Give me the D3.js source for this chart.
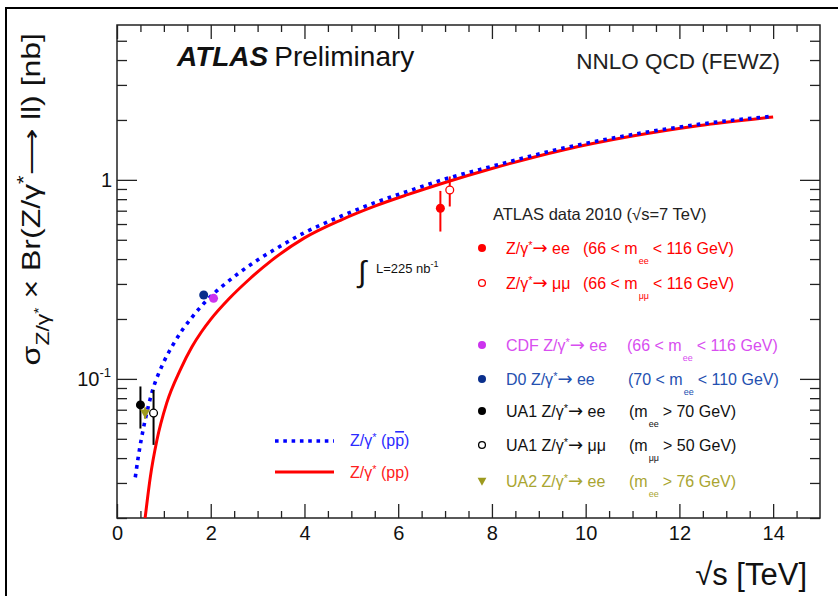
<!DOCTYPE html>
<html>
<head>
<meta charset="utf-8">
<script src="https://cdn.jsdelivr.net/npm/d3@7"></script>
<style>
body { margin: 0; background: #fff; }
svg { display: block; font-family: "Liberation Sans", Arial, Helvetica, sans-serif; }
</style>
</head>
<body>
<svg id="chart" width="838" height="596"></svg>
<script>
// theory: NNLO QCD (FEWZ), sigma x Br in nb vs sqrt(s) in TeV
var ppbarS = [0.39, 0.45, 0.52, 0.60, 0.70, 0.80, 0.90, 1.0, 1.2, 1.4, 1.6, 1.8, 2.0, 2.2, 2.6, 3.0, 3.4, 4.0, 4.8, 5.5, 6.2, 7.0, 8.0, 9.5, 11.0, 12.4, 14.0];
var ppbarSigma = [0.032, 0.040, 0.050, 0.062, 0.078, 0.094, 0.108, 0.122, 0.149, 0.177, 0.204, 0.232, 0.260, 0.286, 0.340, 0.396, 0.452, 0.543, 0.660, 0.768, 0.876, 1.01, 1.17, 1.44, 1.69, 1.90, 2.09];
var ppS = [0.60, 0.65, 0.71, 0.85, 1.06, 1.35, 1.6, 1.8, 2.0, 2.4, 2.8, 3.3, 4.0, 4.8, 5.5, 6.2, 7.0, 8.0, 9.5, 11.0, 12.4, 14.0];
var ppSigma = [0.020, 0.025, 0.032, 0.049, 0.0755, 0.111, 0.145, 0.172, 0.199, 0.254, 0.313, 0.394, 0.511, 0.632, 0.738, 0.843, 0.97, 1.14, 1.41, 1.66, 1.87, 2.07];

// measurements
var expNames = ["ATLAS ee", "ATLAS mumu", "CDF ee", "D0 ee", "UA1 ee", "UA1 mumu", "UA2 ee"];
var expS = [6.9, 7.1, 2.06, 1.85, 0.50, 0.78, 0.60];
var expSigma = [0.72, 0.89, 0.254, 0.264, 0.074, 0.0673, 0.0673];
var expLo = [0.55, 0.735, 0.248, 0.258, 0.0563, 0.0466, 0.063];
var expHi = [0.88, 1.04, 0.260, 0.270, 0.0916, 0.088, 0.072];
var expColor = ["#ff0000", "#ff0000", "#cc33ee", "#0a2f8c", "#000000", "#000000", "#9d9a1e"];
var expTextColor = ["#ff0000", "#ff0000", "#d84ef0", "#2450b0", "#111111", "#111111", "#a9a531"];
var expMarker = ["filled", "open", "filled", "filled", "filled", "open", "triangle"];

// legend labels
var legLabels = ["Z/γ*→ ee", "Z/γ*→ μμ", "CDF Z/γ*→ ee", "D0 Z/γ*→ ee", "UA1 Z/γ*→ ee", "UA1 Z/γ*→ μμ", "UA2 Z/γ*→ ee"];
var legCutPre = ["(66 < m", "(66 < m", "(66 < m", "(70 < m", "(m", "(m", "(m"];
var legCutSub = ["ee", "μμ", "ee", "ee", "ee", "μμ", "ee"];
var legCutPost = ["< 116 GeV)", "< 116 GeV)", "< 116 GeV)", "< 110 GeV)", "> 70 GeV)", "> 50 GeV)", "> 76 GeV)"];

var xTicks = [0, 2, 4, 6, 8, 10, 12, 14];
var xTickLabels = ["0", "2", "4", "6", "8", "10", "12", "14"];
var yTicks = [0.1, 1];

var svg = d3.select("#chart");
var margin = {top: 25, right: 18, bottom: 78, left: 117};
var W = 838, H = 596;
var width = W - margin.left - margin.right, height = H - margin.top - margin.bottom;

// picture border (cropped at right/bottom)
svg.append("rect").attr("x", 6).attr("y", 8).attr("width", 860).attr("height", 620)
  .attr("fill", "none").attr("stroke", "#000").attr("stroke-width", 2);

var x = d3.scaleLinear().domain([0, 15]).range([margin.left, margin.left + width]);
var y = d3.scaleLog().domain([0.02, 6]).range([margin.top + height, margin.top]);

svg.append("clipPath").attr("id", "plotclip").append("rect")
  .attr("x", margin.left).attr("y", margin.top).attr("width", width).attr("height", height);

// axes: ticks drawn inside, mirrored on top/right
var xMinor = d3.range(0.5, 15, 0.5).filter(function (d) { return d % 2 !== 0; });
var yMinor = [0.02, 0.03, 0.04, 0.05, 0.06, 0.07, 0.08, 0.09, 0.2, 0.3, 0.4, 0.5, 0.6, 0.7, 0.8, 0.9, 2, 3, 4, 5];

function styleAxis(g) {
  g.select(".domain").remove();
  g.selectAll("line").attr("stroke", "#222").attr("stroke-width", 1.3);
}

svg.append("g").attr("transform", "translate(0," + (margin.top + height) + ")")
  .call(d3.axisBottom(x).tickValues(xTicks).tickSizeInner(-14).tickSizeOuter(0).tickPadding(8)
    .tickFormat(function (d, i) { return xTickLabels[i]; }))
  .call(styleAxis)
  .selectAll("text").attr("font-size", 20).attr("fill", "#111").attr("font-family", "Liberation Sans, Arial, sans-serif");
svg.append("g").attr("transform", "translate(0," + (margin.top + height) + ")")
  .call(d3.axisBottom(x).tickValues(xMinor).tickSizeInner(-7).tickSizeOuter(0).tickFormat(""))
  .call(styleAxis);
svg.append("g").attr("transform", "translate(0," + margin.top + ")")
  .call(d3.axisTop(x).tickValues(xTicks).tickSizeInner(-14).tickSizeOuter(0).tickFormat(""))
  .call(styleAxis);
svg.append("g").attr("transform", "translate(0," + margin.top + ")")
  .call(d3.axisTop(x).tickValues(xMinor).tickSizeInner(-7).tickSizeOuter(0).tickFormat(""))
  .call(styleAxis);

svg.append("g").attr("transform", "translate(" + margin.left + ",0)")
  .call(d3.axisLeft(y).tickValues(yTicks).tickSizeInner(-20).tickSizeOuter(0).tickFormat(""))
  .call(styleAxis);
svg.append("g").attr("transform", "translate(" + margin.left + ",0)")
  .call(d3.axisLeft(y).tickValues(yMinor).tickSizeInner(-10).tickSizeOuter(0).tickFormat(""))
  .call(styleAxis);
svg.append("g").attr("transform", "translate(" + (margin.left + width) + ",0)")
  .call(d3.axisRight(y).tickValues(yTicks).tickSizeInner(-20).tickSizeOuter(0).tickFormat(""))
  .call(styleAxis);
svg.append("g").attr("transform", "translate(" + (margin.left + width) + ",0)")
  .call(d3.axisRight(y).tickValues(yMinor).tickSizeInner(-10).tickSizeOuter(0).tickFormat(""))
  .call(styleAxis);

// y tick labels
svg.append("text").attr("x", 112).attr("y", y(1) + 7).attr("text-anchor", "end")
  .attr("font-size", 20).attr("fill", "#111").text("1");
var t01 = svg.append("text").attr("x", 111).attr("y", y(0.1) + 7).attr("text-anchor", "end")
  .attr("font-size", 20).attr("fill", "#111");
t01.append("tspan").text("10");
t01.append("tspan").attr("dy", -9).attr("font-size", 13).text("-1");

// frame
svg.append("rect").attr("x", margin.left).attr("y", margin.top).attr("width", width).attr("height", height)
  .attr("fill", "none").attr("stroke", "#222").attr("stroke-width", 1.5);

// helper: text with "*" raised and a wider arrow
function rich(sel, str, supSize) {
  var raised = false;
  str.split(/([*→])/).forEach(function (p) {
    if (!p.length) return;
    if (p === "*") {
      sel.append("tspan").attr("dy", -5).attr("font-size", supSize).text("*");
      raised = true;
      return;
    }
    var t = sel.append("tspan").attr("dy", raised ? 5 : 0);
    raised = false;
    if (p === "→") t.attr("font-family", "DejaVu Sans").attr("font-size", 18).text("→");
    else t.text(p);
  });
}

// theory curves
var line = d3.line().x(function (d) { return x(d[0]); }).y(function (d) { return y(d[1]); })
  .curve(d3.curveMonotoneX);
var curves = svg.append("g").attr("clip-path", "url(#plotclip)");
curves.append("path").datum(ppS.map(function (s, i) { return [s, ppSigma[i]]; }))
  .attr("d", line).attr("fill", "none").attr("stroke", "#ff0000").attr("stroke-width", 3);
curves.append("path").datum(ppbarS.map(function (s, i) { return [s, ppbarSigma[i]]; }))
  .attr("d", line).attr("fill", "none").attr("stroke", "#0000ff").attr("stroke-width", 3.6)
  .attr("stroke-dasharray", "3.6,5");

// data points
var pts = svg.append("g");
function drawMarker(g, type, cx, cy, r, col) {
  if (type === "triangle") {
    g.append("path").attr("d", "M" + (cx - r * 1.1) + "," + (cy - r * 0.8) + "L" + (cx + r * 1.1) + "," + (cy - r * 0.8) + "L" + cx + "," + (cy + r * 1.2) + "Z")
      .attr("fill", col);
  } else {
    g.append("circle").attr("cx", cx).attr("cy", cy).attr("r", type === "open" ? r - 0.6 : r)
      .attr("fill", type === "open" ? "#fff" : col).attr("stroke", col)
      .attr("stroke-width", type === "open" ? 1.3 : 0);
  }
}
// draw low-energy points in order so markers overlap like the reference
[4, 6, 5, 3, 2, 0, 1].forEach(function (i) {
  pts.append("line").attr("x1", x(expS[i])).attr("x2", x(expS[i]))
    .attr("y1", y(expLo[i])).attr("y2", y(expHi[i]))
    .attr("stroke", expColor[i]).attr("stroke-width", 2);
  drawMarker(pts, expMarker[i], x(expS[i]), y(expSigma[i]), 4.5, expColor[i]);
});

// titles
var atl = svg.append("text").attr("x", 177).attr("y", 66).attr("font-size", 28).attr("fill", "#111");
atl.append("tspan").attr("font-weight", "bold").attr("font-style", "italic").text("ATLAS");
atl.append("tspan").attr("dx", 6).text("Preliminary");
svg.append("text").attr("x", 780).attr("y", 69).attr("text-anchor", "end").attr("font-size", 22.5)
  .attr("fill", "#222").text("NNLO QCD (FEWZ)");

// axis titles
var yl = svg.append("text").attr("transform", "translate(40,33) scale(0.8,1) rotate(-90)")
  .attr("text-anchor", "end").attr("font-size", 32).attr("fill", "#111");
yl.append("tspan").text("σ");
yl.append("tspan").attr("dy", 11).attr("font-size", 23).text("Z/γ");
yl.append("tspan").attr("dy", -7).attr("font-size", 16).text("*");
yl.append("tspan").attr("dy", -4).text(" × Br(Z/γ");
yl.append("tspan").attr("dy", -12).attr("font-size", 22).text("*");
yl.append("tspan").attr("dy", 12).text("⟶ ll) [nb]");

svg.append("text").attr("x", 807).attr("y", 585).attr("text-anchor", "end").attr("font-size", 31)
  .attr("fill", "#111").text("√s [TeV]");

// integrated luminosity
svg.append("text").attr("x", 358).attr("y", 282).attr("font-size", 30).attr("fill", "#111").text("∫");
var lum = svg.append("text").attr("x", 376).attr("y", 273).attr("font-size", 13).attr("fill", "#111");
lum.append("tspan").text("L=225 nb");
lum.append("tspan").attr("dy", -6).attr("font-size", 9).text("-1");

// data legend
svg.append("text").attr("x", 493).attr("y", 220).attr("font-size", 16.5).attr("fill", "#222")
  .text("ATLAS data 2010 (√s=7 TeV)");
var legY = [248, 283, 345, 379, 411, 445, 481];
var cutX = [583, 583, 627, 628, 629, 629, 629];
legLabels.forEach(function (lab, i) {
  var g = svg.append("g");
  drawMarker(g, expMarker[i], 482, legY[i], 4, expColor[i]);
  var t = g.append("text").attr("x", 506).attr("y", legY[i] + 6).attr("font-size", 16).attr("fill", expTextColor[i]);
  rich(t, lab, 11);
  var c = g.append("text").attr("x", cutX[i]).attr("y", legY[i] + 6).attr("font-size", 16).attr("fill", expTextColor[i]);
  c.append("tspan").text(legCutPre[i]);
  c.append("tspan").attr("dy", 10).attr("dx", 1).attr("font-size", 9).text(legCutSub[i]);
  c.append("tspan").attr("dy", -10).attr("dx", 4).text(legCutPost[i]);
});

// theory legend
svg.append("line").attr("x1", 275).attr("x2", 334).attr("y1", 441).attr("y2", 441)
  .attr("stroke", "#0000ff").attr("stroke-width", 3.6).attr("stroke-dasharray", "3.6,4.7");
var lb = svg.append("text").attr("x", 350).attr("y", 446).attr("font-size", 16).attr("fill", "#2b2bff");
rich(lb, "Z/γ* (p", 11);
lb.append("tspan").attr("text-decoration", "overline").text("p");
lb.append("tspan").text(")");
svg.append("line").attr("x1", 275).attr("x2", 334).attr("y1", 472).attr("y2", 472)
  .attr("stroke", "#ff0000").attr("stroke-width", 3);
var lr = svg.append("text").attr("x", 350).attr("y", 478).attr("font-size", 16).attr("fill", "#ff2020");
rich(lr, "Z/γ* (pp)", 11);
</script>
</body>
</html>
